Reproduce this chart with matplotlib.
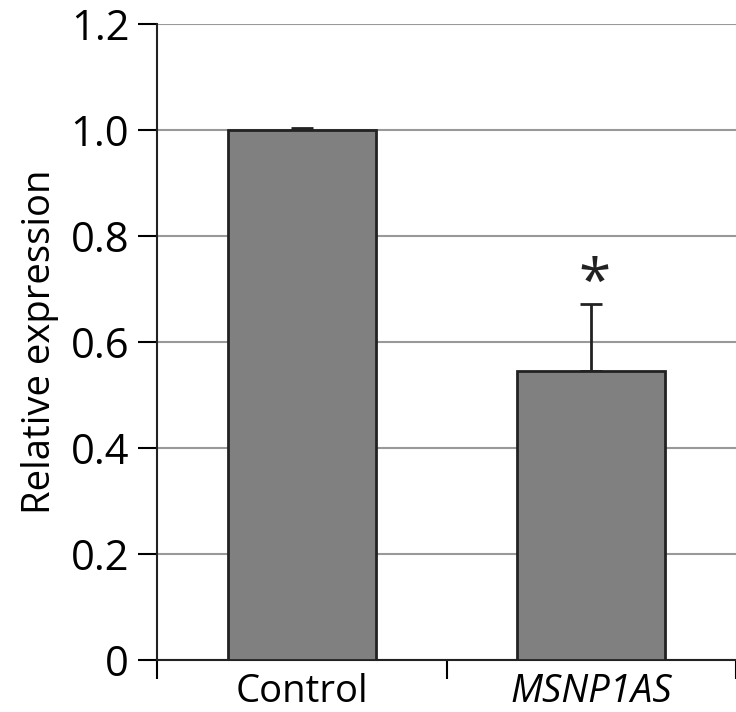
import matplotlib
matplotlib.use("Agg")
import matplotlib.pyplot as plt

categories = ["Control", "MSNP1AS"]
values = [1.0, 0.545]
errors = [0.004, 0.127]
yticks = [0, 0.2, 0.4, 0.6, 0.8, 1.0, 1.2]
ytick_labels = ["0", "0.2", "0.4", "0.6", "0.8", "1.0", "1.2"]

plt.rcParams["font.family"] = ["Open Sans", "DejaVu Sans"]

fig = plt.figure(figsize=(7.36, 7.12), dpi=100)
ax = fig.add_axes([157 / 736, 52 / 712, 1 - 157 / 736, 636 / 712])

x = range(len(categories))
ax.bar(x, values, width=0.51, color="#808080", edgecolor="#222222",
       linewidth=2, zorder=3)
ax.errorbar(x, values, yerr=[[0, 0], errors], fmt="none", ecolor="#222222",
            elinewidth=2, capsize=8, capthick=2, zorder=2)
ax.text(1.01, values[1] + errors[1] + 0.035, "*", ha="center", va="center",
        fontsize=42, color="#222222")

ax.set_xlim(-0.5, 1.5)
ax.set_ylim(0, 1.2)
ax.set_yticks(yticks)
ax.set_yticklabels(ytick_labels)
ax.set_xticks(list(x))
ax.set_xticklabels(categories)
ax.get_xticklabels()[1].set_style("italic")
ax.set_xticks([-0.5, 0.5, 1.5], minor=True)
ax.tick_params(axis="x", which="major", length=0, pad=9, labelsize=27.5)
ax.tick_params(axis="x", which="minor", length=14, width=1.5, direction="out")
ax.tick_params(axis="y", length=14, width=1.5, labelsize=30, pad=6)
ax.set_ylabel("Relative expression", fontsize=27.5, labelpad=8)

ax.grid(axis="y", color="#999999", linewidth=1.5, zorder=0)
ax.set_axisbelow(True)
for s in ["top", "right"]:
    ax.spines[s].set_visible(False)
for s in ["left", "bottom"]:
    ax.spines[s].set_linewidth(1.5)
    ax.spines[s].set_color("#222222")

fig.savefig("out.png", dpi=100)
